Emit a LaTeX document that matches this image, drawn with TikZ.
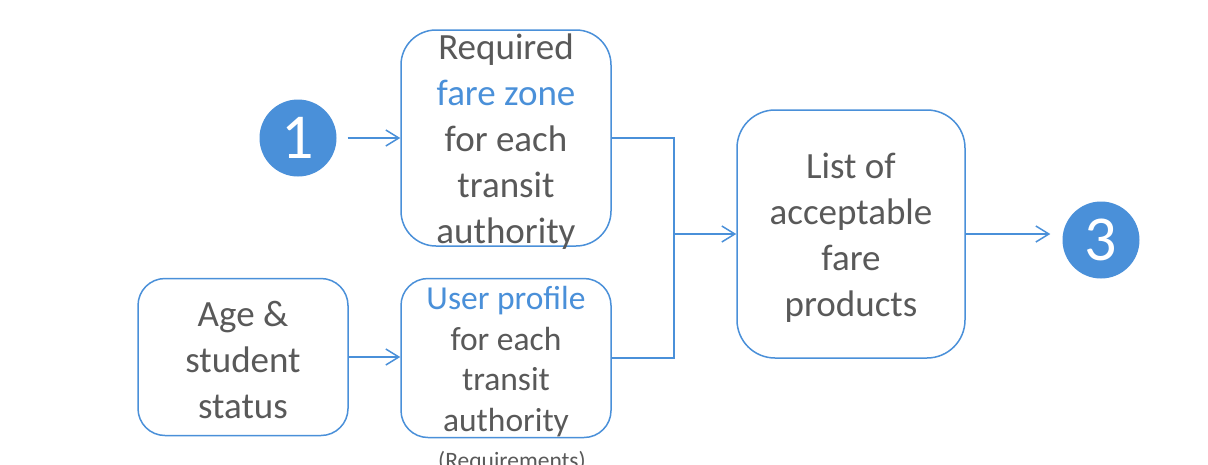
\documentclass[tikz,border=0pt]{standalone}
\usepackage{fontspec}
\setmainfont{Carlito}
\usetikzlibrary{arrows.meta}
\definecolor{flowblue}{RGB}{74,144,217}
\definecolor{flowgray}{RGB}{89,89,89}
\tikzset {
  >={Straight Barb[length=13pt,width=16pt]},
  box/.style={draw=flowblue, line width=1.5pt, inner sep=0pt},
  boxtext/.style={text=flowgray, align=center, inner sep=0pt},
  bigtext/.style={font=\fontsize{37}{46}\selectfont},
  smalltext/.style={font=\fontsize{33.5}{40.5}\selectfont},
  numdot/.style={circle, fill=flowblue, minimum size=77pt, inner sep=0pt,
    text=white, font=\fontsize{64}{64}\selectfont},
  link/.style={draw=flowblue, line width=1.5pt},
}

\begin{document}
\begin{tikzpicture}[x=1pt,y=-1pt]
  \clip (0,0) rectangle (1208,464);
  \fill[white] (0,0) rectangle (1208,464);

  \node[numdot] (one) at (298,138) {1};
  \node[box,rounded corners=35pt,minimum width=210pt,minimum height=216pt]
    (zone) at (506,138) {};
  \node[boxtext,bigtext] (zonetext) at ([yshift=-3.5pt]zone.center)
    {Required\\\textcolor{flowblue}{fare zone}\\for each\\transit\\authority};
  \node[box,rounded corners=27pt,minimum width=210pt,minimum height=159pt]
    (profile) at (506,358) {};
  \node[boxtext,smalltext] (profiletext) at ([yshift=-3.5pt]profile.center)
    {\textcolor{flowblue}{User profile}\\for each\\transit\\authority};
  \node[box,rounded corners=27pt,minimum width=210pt,minimum height=157pt]
    (age) at (243,357) {};
  \node[boxtext,bigtext] (agetext) at ([yshift=-2.5pt]age.center)
    {Age \&\\student\\status};
  \node[box,rounded corners=38pt,minimum width=228pt,minimum height=248pt]
    (list) at (851,234) {};
  \node[boxtext,bigtext] (listtext) at ([yshift=-4pt]list.center)
    {List of\\acceptable\\fare\\products};
  \node[numdot] (three) at (1101,240) {3};
  \node[anchor=base,text=flowgray,font=\fontsize{23.5}{28}\selectfont]
    (req) at (512,468) {(Requirements)};

  \coordinate (join) at (674,234);
  \draw[link,->,shorten <=11pt] (one) -- (zone.west);
  \draw[link,->] (age.east) -- (profile.west |- age.east);
  \draw[link] (zone.east) -| (join) |- (profile.east);
  \draw[link,->] (join) -- (list.west);
  \draw[link,->,shorten >=12pt] (list.east) -- (three.west |- list.east);
\end{tikzpicture}
\end{document}
